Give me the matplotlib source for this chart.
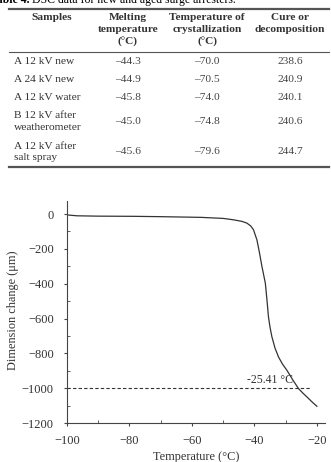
import matplotlib
matplotlib.use('Agg')
import matplotlib.pyplot as plt
from matplotlib.ticker import MultipleLocator

plt.rcParams['font.family'] = ['Liberation Serif', 'DejaVu Serif']
plt.rcParams['axes.unicode_minus'] = True

# table data
samples = ['A 12 kV new', 'A 24 kV new', 'A 12 kV water',
           'B 12 kV after\nweatherometer', 'A 12 kV after\nsalt spray']
melting = ['–44.3', '–44.9', '–45.8', '–45.0', '–45.6']
crystallization = ['–70.0', '–70.5', '–74.0', '–74.8', '–79.6']
cure = ['238.6', '240.9', '240.1', '240.6', '244.7']
headers = ['Samples', 'Melting\ntemperature\n(°C)',
           'Temperature of\ncrystallization\n(°C)', 'Cure or\ndecomposition']

# curve data (temperature, dimension change)
temp = [-100, -96.8, -90, -78.7, -70, -57, -50, -46.7, -44, -42.4, -41.2, -40.3,
        -39.2, -38.4, -37.6, -36.5, -36.0, -35.5, -35.0, -34.4, -33.4, -32.3,
        -31.0, -29.6, -27.8, -25.9, -24.5, -23.2, -21.6, -20]
change = [-5, -10, -12, -13, -15, -19, -25, -33, -42, -52, -68, -90,
          -148, -220, -300, -397, -490, -590, -650, -705, -770, -820,
          -862, -897, -950, -1002, -1028, -1050, -1078, -1104]
ref_level = -1000
ref_label = '-25.41 °C'

W, H = 331, 462
fig = plt.figure(figsize=(W / 100, H / 100), dpi=100)


def fx(x):
    return x / W


def fy(y):
    return 1 - y / H


# caption (cut off at the top like the source)
fig.text(fx(29), fy(-0.5), 'Table 4.', fontsize=8.5, fontweight='bold', ha='right', va='center')
fig.text(fx(32), fy(-0.5), 'DSC data for new and aged surge arresters.', fontsize=8.5,
         ha='left', va='center')

# rules
line_col = '#555555'
for y, lw in [(8.5, 1.6), (52, 0.8), (167, 1.6)]:
    fig.add_artist(plt.Line2D([fx(9), fx(329)], [fy(y), fy(y)], color=line_col, lw=lw))

fs = 8.2
col_x = [52, 128, 207, 290]
for i in range(4):
    fig.text(fx(col_x[i]), fy(12.5), headers[i], fontsize=fs, fontweight='bold',
             ha='center', va='top', linespacing=1.45, color='#333333')

row_y = [62, 80, 97, 121.5, 152]
for i in range(len(samples)):
    fig.text(fx(14), fy(row_y[i]), samples[i], fontsize=fs, ha='left', va='center',
             linespacing=1.3, color='#333333')
    fig.text(fx(col_x[1]), fy(row_y[i]), melting[i], fontsize=fs, ha='center', va='center',
             color='#444444')
    fig.text(fx(col_x[2]), fy(row_y[i]), crystallization[i], fontsize=fs, ha='center',
             va='center', color='#444444')
    fig.text(fx(col_x[3]), fy(row_y[i]), cure[i], fontsize=fs, ha='center', va='center',
             color='#444444')

# chart
ax = fig.add_axes([67 / W, 1 - 423 / H, 258 / W, 222 / H])
ax.plot(temp, change, color='#333333', lw=0.9)
ax.plot([-100, -22.1], [ref_level, ref_level], color='#333333', lw=0.8, ls=(0, (3, 2)))
ax.text(-27.6, ref_level + 10, ref_label, fontsize=8.5, ha='right', va='bottom', color='#333333')

ax.set_xlim(-100, -17.4)
ax.set_ylim(-1200, 75)
ax.xaxis.set_major_locator(MultipleLocator(20))
ax.xaxis.set_minor_locator(MultipleLocator(10))
ax.yaxis.set_major_locator(MultipleLocator(200))
ax.yaxis.set_minor_locator(MultipleLocator(100))
for s in ['top', 'right']:
    ax.spines[s].set_visible(False)
for s in ['left', 'bottom']:
    ax.spines[s].set_color('#444444')
    ax.spines[s].set_linewidth(0.8)
ax.tick_params(which='both', colors='#444444', labelsize=9, labelcolor='#333333')
ax.tick_params(which='major', direction='out', length=2.5)
ax.tick_params(which='minor', direction='in', length=2)
ax.tick_params(axis='x', which='major', pad=6)
ax.tick_params(axis='y', which='major', pad=7)

ax.set_xlabel('Temperature (°C)', fontsize=8.8, color='#333333')
ax.set_ylabel('Dimension change (μm)', fontsize=8.8, color='#333333')
ax.xaxis.set_label_coords(0.5, -0.155)
ax.yaxis.set_label_coords(-0.21, 0.51)
ax.xaxis.label.set_va('center')
ax.yaxis.label.set_va('center')

fig.savefig('out.png', dpi=100)
